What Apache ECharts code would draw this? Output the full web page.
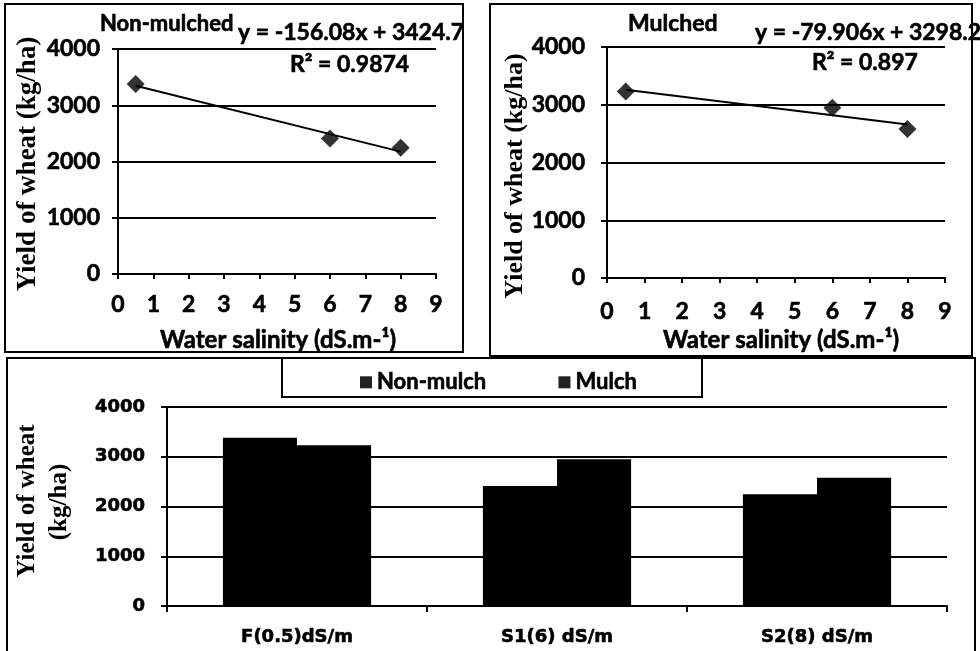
<!DOCTYPE html>
<html>
<head>
<meta charset="utf-8">
<script src="https://cdn.jsdelivr.net/npm/echarts@6/dist/echarts.min.js"></script>
<style>
  html, body { margin: 0; padding: 0; background: #fff; }
  #chart { width: 980px; height: 651px; }
</style>
</head>
<body>
<div id="chart"></div>
<script>
// data
const salinity = [0.5, 6, 8];
const nonMulched = [3380, 2410, 2245];
const mulched = [3230, 2950, 2580];
// trendline end points (from the printed equations)
const nonMulchTrend = [[0.5, 3347], [8, 2176]];
const mulchTrend = [[0.5, 3258], [8, 2659]];
const categories = ["F(0.5)dS/m", "S1(6) dS/m", "S2(8) dS/m"];
const yTicks = [0, 1000, 2000, 3000, 4000];

const sans = 'Lato, "Liberation Sans", sans-serif';
const wide = '"DejaVu Sans", sans-serif';
const serif = '"Liberation Serif", serif';

let chart = echarts.init(document.getElementById("chart"));

function pairs(xs, ys) {
  return xs.map((x, i) => [x, ys[i]]);
}

// thin outline makes the text look as heavy as the scanned figure
const heavy = { textBorderColor: "#000", textBorderWidth: 0.6 };

function valueX(gridIndex, margin) {
  return {
    type: "value",
    gridIndex: gridIndex,
    min: 0,
    max: 9,
    interval: 1,
    splitLine: { show: false },
    axisLine: { show: true, lineStyle: { color: "#000", width: 2 } },
    axisTick: { show: true, length: 5, lineStyle: { color: "#000", width: 2 } },
    axisLabel: Object.assign({
      color: "#000",
      fontFamily: sans,
      fontWeight: "bold",
      fontSize: 23,
      margin: margin
    }, heavy)
  };
}

function valueY(gridIndex, font, size, margin) {
  return {
    type: "value",
    gridIndex: gridIndex,
    min: yTicks[0],
    max: yTicks[yTicks.length - 1],
    interval: 1000,
    splitLine: { show: true, lineStyle: { color: "#000", width: 2 } },
    axisLine: { show: true, lineStyle: { color: "#000", width: 2 } },
    axisTick: { show: true, length: 6, lineStyle: { color: "#000", width: 2 } },
    axisLabel: Object.assign({
      color: "#000",
      fontFamily: font,
      fontWeight: "bold",
      fontSize: size,
      margin: margin,
      formatter: v => String(v)
    }, heavy)
  };
}

function label(text, x, y, opts) {
  return {
    type: "text",
    x: x,
    y: y,
    style: Object.assign({
      text: text,
      fill: "#000",
      stroke: "#000",
      lineWidth: 0.6,
      font: "bold 23px " + sans,
      textAlign: "left",
      textVerticalAlign: "middle"
    }, opts || {})
  };
}

function vlabel(text, x, y, font) {
  return {
    type: "text",
    x: x,
    y: y,
    rotation: Math.PI / 2,
    style: {
      text: text,
      fill: "#000",
      font: font,
      textAlign: "center",
      textVerticalAlign: "middle"
    }
  };
}

function box(x1, y1, x2, y2, fill) {
  return {
    type: "rect",
    shape: { x: x1, y: y1, width: x2 - x1, height: y2 - y1 },
    style: { fill: fill || "none", stroke: "#000", lineWidth: 2 },
    z: fill ? 5 : -1
  };
}

let option = {
  animation: false,
  backgroundColor: "#fff",
  grid: [
    { left: 118, top: 49, width: 318, height: 225 },
    { left: 607, top: 47, width: 338, height: 231 },
    { left: 167, top: 407, width: 780, height: 199 }
  ],
  legend: {
    data: [
      { name: "Non-mulch", itemStyle: { color: "#222" } },
      { name: "Mulch", itemStyle: { color: "#222" } }
    ],
    left: 355,
    top: 366,
    itemWidth: 12,
    itemHeight: 12,
    itemGap: 72,
    icon: "rect",
    z: 10,
    textStyle: Object.assign({
      color: "#000",
      fontFamily: sans,
      fontWeight: "bold",
      fontSize: 22
    }, heavy)
  },
  xAxis: [
    valueX(0, 19),
    valueX(1, 22),
    {
      type: "category",
      gridIndex: 2,
      data: categories,
      axisLine: { show: true, lineStyle: { color: "#000", width: 2 } },
      axisTick: { show: true, length: 6, lineStyle: { color: "#000", width: 2 } },
      axisLabel: Object.assign({
        color: "#000",
        fontFamily: wide,
        fontWeight: "bold",
        fontSize: 18,
        margin: 22
      }, heavy)
    }
  ],
  yAxis: [
    valueY(0, sans, 23, 18),
    valueY(1, sans, 23, 22),
    valueY(2, wide, 18, 22)
  ],
  series: [
    {
      name: "Non-mulched",
      type: "scatter",
      xAxisIndex: 0,
      yAxisIndex: 0,
      symbol: "diamond",
      symbolSize: 18,
      itemStyle: { color: "#000" },
      z: 4,
      data: pairs(salinity, nonMulched)
    },
    {
      name: "Non-mulched trend",
      type: "line",
      xAxisIndex: 0,
      yAxisIndex: 0,
      symbol: "none",
      lineStyle: { color: "#000", width: 2 },
      data: nonMulchTrend
    },
    {
      name: "Mulched",
      type: "scatter",
      xAxisIndex: 1,
      yAxisIndex: 1,
      symbol: "diamond",
      symbolSize: 18,
      itemStyle: { color: "#000" },
      z: 4,
      data: pairs(salinity, mulched)
    },
    {
      name: "Mulched trend",
      type: "line",
      xAxisIndex: 1,
      yAxisIndex: 1,
      symbol: "none",
      lineStyle: { color: "#000", width: 2 },
      data: mulchTrend
    },
    {
      name: "Non-mulch",
      type: "bar",
      xAxisIndex: 2,
      yAxisIndex: 2,
      barGap: "0%",
      barCategoryGap: "43%",
      itemStyle: { color: "#000" },
      data: nonMulched
    },
    {
      name: "Mulch",
      type: "bar",
      xAxisIndex: 2,
      yAxisIndex: 2,
      barGap: "0%",
      barCategoryGap: "43%",
      itemStyle: { color: "#000" },
      data: mulched
    }
  ],
  graphic: [
    // panel frames
    box(5, 4, 463, 352),
    box(490, 4, 972, 356),
    box(7, 358, 975, 670),
    box(282, 358, 702, 397, "#fff"),
    // top left panel texts
    label("Non-mulched", 100, 24, { font: "bold 22px " + sans }),
    label("y = -156.08x + 3424.7", 238, 33),
    label("R\u00b2 = 0.9874", 290, 65),
    label("Water salinity (dS.m-\u00b9)", 278, 340, { textAlign: "center", font: "bold 24px " + sans }),
    vlabel("Yield of wheat (kg/ha)", 28, 164, "bold 27px " + serif),
    // top right panel texts
    label("Mulched", 628, 24, { font: "bold 23px " + sans }),
    label("y = -79.906x + 3298.2", 755, 33),
    label("R\u00b2 = 0.897", 812, 63),
    label("Water salinity (dS.m-\u00b9)", 781, 340, { textAlign: "center", font: "bold 24px " + sans }),
    vlabel("Yield of wheat (kg/ha)", 515, 176, "bold 26px " + serif),
    // bottom panel y title
    vlabel("Yield of wheat", 28, 501, "bold 25px " + serif),
    vlabel("(kg/ha)", 60, 502, "bold 25px " + serif)
  ]
};

chart.setOption(option);
</script>
</body>
</html>
